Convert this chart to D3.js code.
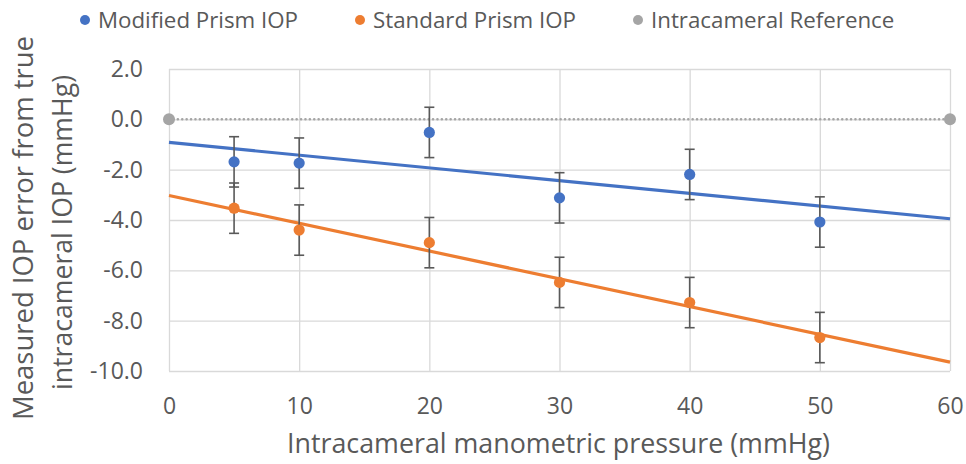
<!DOCTYPE html>
<html>
<head>
<meta charset="utf-8">
<script src="https://cdn.jsdelivr.net/npm/d3@7"></script>
<style>
  body { margin: 0; background: #fff; }
  text { font-family: "Open Sans", sans-serif; fill: #595959; }
</style>
</head>
<body>
<div class="chart"></div>
<script>
// pressure levels (mmHg) and mean errors
const pressures = [5, 10, 20, 30, 40, 50];
const modifiedErr = [-1.69, -1.74, -0.52, -3.12, -2.19, -4.08];
const standardErr = [-3.53, -4.40, -4.90, -6.48, -7.28, -8.67];
const errorBar = [1.0, 1.0, 1.0, 1.0, 1.0, 1.0];
const refX = [0, 60];
const refY = [0, 0];
const xTicks = [0, 10, 20, 30, 40, 50, 60];
const yTicks = [2, 0, -2, -4, -6, -8, -10];
const seriesNames = ['Modified Prism IOP', 'Standard Prism IOP', 'Intracameral Reference'];
const colors = ['#4472C4', '#ED7D31', '#A5A5A5'];

const margin = {top: 69, right: 16, bottom: 93, left: 169};
const width = 966 - margin.left - margin.right;
const height = 464 - margin.top - margin.bottom;

const root = d3.select('.chart')
	.append('svg')
		.attr('width', 966)
		.attr('height', 464);

const svg = root.append('g')
	.attr('transform', `translate(${margin.left}, ${margin.top})`);

const x = d3.scaleLinear().domain([0, 60]).range([0, width]);
const y = d3.scaleLinear().domain([-10, 2]).range([height, 0]);

// gridlines
svg.append('g')
	.call(d3.axisLeft(y).tickValues(yTicks).tickSize(-width).tickFormat(''))
	.call(g => g.select('.domain').remove())
	.call(g => g.selectAll('line').attr('stroke', '#d9d9d9').attr('stroke-width', 1.3));
svg.append('g')
	.attr('transform', `translate(0, ${height})`)
	.call(d3.axisBottom(x).tickValues(xTicks).tickSize(-height).tickFormat(''))
	.call(g => g.select('.domain').remove())
	.call(g => g.selectAll('line').attr('stroke', '#d9d9d9').attr('stroke-width', 1.3));

// tick labels
svg.append('g')
	.call(d3.axisLeft(y).tickValues(yTicks).tickSize(0).tickPadding(26).tickFormat(d => d.toFixed(1)))
	.call(g => g.select('.domain').remove())
	.call(g => g.selectAll('text').attr('font-size', 23).attr('fill', '#595959').style('font-family', '"Open Sans", sans-serif'));
svg.append('g')
	.attr('transform', `translate(0, ${height})`)
	.call(d3.axisBottom(x).tickValues(xTicks).tickSize(0).tickPadding(27).tickFormat(d3.format('d')))
	.call(g => g.select('.domain').remove())
	.call(g => g.selectAll('text').attr('font-size', 23).attr('fill', '#595959').style('font-family', '"Open Sans", sans-serif'));

// reference line
svg.append('path')
	.datum(refX.map((d, i) => [d, refY[i]]))
	.attr('fill', 'none')
	.attr('stroke', colors[2])
	.attr('stroke-width', 2.5)
	.attr('stroke-linecap', 'round')
	.attr('stroke-dasharray', '0.1 4.3')
	.attr('d', d3.line().x(d => x(d[0])).y(d => y(d[1])));
svg.selectAll('.ref')
	.data(refX)
	.enter()
	.append('circle')
	.attr('cx', d => x(d))
	.attr('cy', (d, i) => y(refY[i]))
	.attr('r', 6)
	.attr('fill', colors[2]);

// linear fit
function fit(xs, ys) {
	const mx = d3.mean(xs), my = d3.mean(ys);
	const sxy = d3.sum(xs, (v, i) => (v - mx) * (ys[i] - my));
	const sxx = d3.sum(xs, v => (v - mx) * (v - mx));
	const b = sxy / sxx;
	return [my - b * mx, b];
}

[modifiedErr, standardErr].forEach((vals, k) => {
	const [a, b] = fit(pressures, vals);
	svg.append('line')
		.attr('x1', x(0)).attr('y1', y(a))
		.attr('x2', x(60)).attr('y2', y(a + b * 60))
		.attr('stroke', colors[k])
		.attr('stroke-width', 3.2);

	const g = svg.append('g');
	g.selectAll('line')
		.data(pressures)
		.enter()
		.append('line')
		.attr('x1', d => x(d)).attr('x2', d => x(d))
		.attr('y1', (d, i) => y(vals[i] + errorBar[i]))
		.attr('y2', (d, i) => y(vals[i] - errorBar[i]))
		.attr('stroke', '#595959').attr('stroke-width', 1.6);
	[1, -1].forEach(s => {
		g.selectAll(null)
			.data(pressures)
			.enter()
			.append('line')
			.attr('x1', d => x(d) - 5).attr('x2', d => x(d) + 5)
			.attr('y1', (d, i) => y(vals[i] + s * errorBar[i]))
			.attr('y2', (d, i) => y(vals[i] + s * errorBar[i]))
			.attr('stroke', '#595959').attr('stroke-width', 1.6);
	});
	g.selectAll('circle')
		.data(pressures)
		.enter()
		.append('circle')
		.attr('cx', d => x(d))
		.attr('cy', (d, i) => y(vals[i]))
		.attr('r', 5.6)
		.attr('fill', colors[k]);
});

// axis titles
root.append('text')
	.attr('x', 287)
	.attr('y', 453)
	.attr('font-size', 27)
	.attr('textLength', 543)
	.attr('lengthAdjust', 'spacingAndGlyphs')
	.text('Intracameral manometric pressure (mmHg)');
const yt = root.append('text')
	.attr('transform', 'rotate(-90)')
	.attr('font-size', 26.5);
yt.append('tspan').attr('x', -420).attr('y', 33)
	.attr('textLength', 384).attr('lengthAdjust', 'spacingAndGlyphs')
	.text('Measured IOP error from true');
yt.append('tspan').attr('x', -390).attr('y', 72)
	.attr('textLength', 315).attr('lengthAdjust', 'spacingAndGlyphs')
	.text('intracameral IOP (mmHg)');

// legend
const legendX = [85, 360, 638];
const leg = root.selectAll('.leg')
	.data(seriesNames)
	.enter()
	.append('g')
	.attr('transform', (d, i) => `translate(${legendX[i]}, 20)`);
leg.append('circle').attr('r', 5).attr('fill', (d, i) => colors[i]);
leg.append('text')
	.attr('x', 13)
	.attr('y', 7.5)
	.attr('font-size', 22.3)
	.text(d => d);
</script>
</body>
</html>
